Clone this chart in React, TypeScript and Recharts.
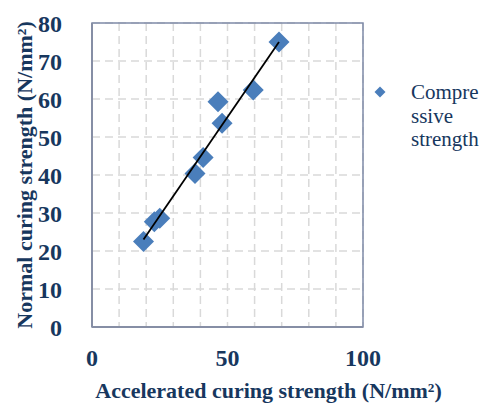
import { ScatterChart, Scatter, XAxis, YAxis, CartesianGrid, ReferenceArea, Label } from 'recharts'

// ── Data ──────────────────────────────────────────────────────────────────────

const acceleratedStrength = [19, 23, 25, 38, 41, 48, 46.5, 59.5, 69]
const normalStrength = [22.5, 27.7, 28.6, 40.4, 44.6, 53.6, 59.3, 62.4, 75]

const trendX = [19, 69]
const trendY = [23, 75]

const xTicks = [0, 10, 20, 30, 40, 50, 60, 70, 80, 90, 100]
const xTickLabels = [0, 50, 100]
const yTicks = [0, 10, 20, 30, 40, 50, 60, 70, 80]

const legendLines = ['Compre', 'ssive', 'strength']

const points = acceleratedStrength.map((x, i) => ({ x, y: normalStrength[i] }))
const trend = trendX.map((x, i) => ({ x, y: trendY[i] }))

// ── Styles ────────────────────────────────────────────────────────────────────

const NAVY = '#17375E'
const MARKER = '#4A7EBB'
const FONT = "'Liberation Serif', serif"

const Diamond = (props: any) => {
  const { cx, cy } = props
  const r = 10.5
  return <path d={`M${cx},${cy - r} L${cx + r},${cy} L${cx},${cy + r} L${cx - r},${cy} Z`} fill={MARKER} />
}

const LegendBox = () => (
  <div
    style={{
      position: 'absolute',
      left: 374,
      top: 81,
      display: 'flex',
      fontFamily: FONT,
      color: NAVY,
      fontSize: 21,
      lineHeight: '23.5px',
    }}
  >
    <svg width={14} height={14} style={{ marginTop: 5, marginRight: 23 }}>
      <path d="M6,0.5 L11.5,6 L6,11.5 L0.5,6 Z" fill={MARKER} />
    </svg>
    <div>
      {legendLines.map((l) => (
        <div key={l}>{l}</div>
      ))}
    </div>
  </div>
)

export default function App() {
  return (
    <div style={{ position: 'absolute', left: 0, top: 0, width: 481, height: 403, background: '#fff' }}>
      <ScatterChart width={481} height={403} margin={{ top: 23, right: 118, bottom: 0, left: 0 }}>
        <CartesianGrid stroke="#D9D9D9" strokeDasharray="8 5" strokeWidth={1.5} />
        <XAxis
          type="number"
          dataKey="x"
          domain={[0, 100]}
          ticks={xTicks}
          tickFormatter={(v: number) => (xTickLabels.includes(v) ? String(v) : '')}
          height={76}
          tickLine={false}
          axisLine={{ stroke: '#868EA5', strokeWidth: 2 }}
          tick={{ fill: NAVY, fontSize: 24, fontWeight: 'bold', fontFamily: FONT }}
          tickMargin={16}
          interval={0}
        >
          <Label
            value="Accelerated curing strength (N/mm²)"
            position="insideBottom"
            offset={5}
            dx={41}
            style={{ fill: NAVY, fontSize: 22, fontWeight: 'bold', fontFamily: FONT }}
          />
        </XAxis>
        <YAxis
          type="number"
          dataKey="y"
          domain={[0, 80]}
          ticks={yTicks}
          width={92}
          tickLine={false}
          axisLine={{ stroke: '#868EA5', strokeWidth: 2 }}
          tick={{ fill: NAVY, fontSize: 24, fontWeight: 'bold', fontFamily: FONT }}
          tickMargin={24}
          interval={0}
        >
          <Label
            value="Normal curing strength (N/mm²)"
            angle={-90}
            position="insideLeft"
            offset={24}
            style={{ fill: NAVY, fontSize: 22, fontWeight: 'bold', fontFamily: FONT, textAnchor: 'middle' }}
          />
        </YAxis>
        <ReferenceArea x1={0} x2={100} y1={0} y2={80} fill="none" stroke="#7F8AA8" strokeWidth={1.5} />
        <Scatter data={points} shape={Diamond} isAnimationActive={false} />
        <Scatter
          data={trend}
          line={{ stroke: '#000', strokeWidth: 1.8 }}
          shape={() => <g />}
          isAnimationActive={false}
          legendType="none"
        />
      </ScatterChart>
      <LegendBox />
    </div>
  )
}
